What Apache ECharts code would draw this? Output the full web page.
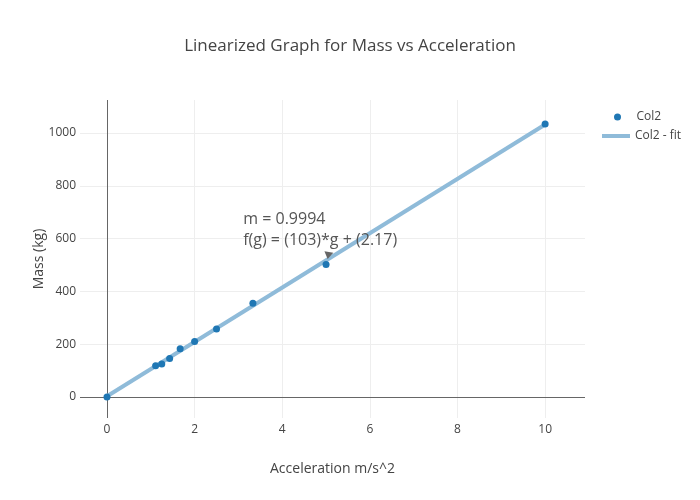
<!DOCTYPE html>
<html>
<head>
<meta charset="utf-8">
<title>Linearized Graph for Mass vs Acceleration</title>
<script src="https://cdn.jsdelivr.net/npm/echarts@6/dist/echarts.min.js"></script>
<style>
    html, body { margin: 0; padding: 0; background: #fff; }
    #chart { width: 700px; height: 500px; }
</style>
</head>
<body>
<div id="chart"></div>
<script>
// Measured points (acceleration m/s^2, mass kg)
var accel = [0, 1.11, 1.25, 1.43, 1.67, 2, 2.5, 3.33, 5, 10];
var mass = [0, 118, 125, 145, 182, 210, 257, 355, 502, 1034];

// Fit line end points: f(g) = 103*g + 2.17
var fitX = [0, 10];
var fitY = [2.17, 1032.17];

// Annotation
var noteText = ['m = 0.9994', 'f(g) = (103)*g + (2.17)'];
var noteAt = [5.05, 536];

var FONT = '"Open Sans", "DejaVu Sans", sans-serif';
var TEXT = '#444';

function pairs(xs, ys) {
    return xs.map(function(x, i) { return [x, ys[i]]; });
}

function plainNumber(v) {
    return String(v);
}

function renderChart() {
    var chart = echarts.init(document.getElementById('chart'));

    var option = {
        animation: false,
        textStyle: { fontFamily: FONT, color: TEXT },
        title: {
            text: 'Linearized Graph for Mass vs Acceleration',
            left: 'center',
            top: 33,
            textStyle: { fontFamily: FONT, fontSize: 17, fontWeight: 'normal', color: TEXT }
        },
        legend: [{
            data: [{ name: 'Col2', icon: 'circle' }],
            left: 609,
            top: 106,
            itemWidth: 28,
            itemHeight: 7,
            textStyle: { fontFamily: FONT, fontSize: 12, color: TEXT }
        }, {
            data: [{ name: 'Col2 - fit', icon: 'rect' }],
            left: 597,
            top: 125,
            itemWidth: 28,
            itemHeight: 4,
            itemStyle: { color: '#8fbbd9' },
            textStyle: { fontFamily: FONT, fontSize: 12, color: TEXT }
        }],
        grid: { left: 80, right: 115, top: 100, bottom: 82 },
        xAxis: {
            type: 'value',
            min: -0.616,
            max: 10.91,
            name: 'Acceleration m/s^2',
            nameLocation: 'middle',
            nameGap: 44,
            nameTextStyle: { fontFamily: FONT, fontSize: 14, color: TEXT },
            axisLine: { show: false },
            axisTick: { show: false },
            axisLabel: {
                margin: 6,
                showMinLabel: false,
                showMaxLabel: false,
                formatter: plainNumber,
                fontFamily: FONT, fontSize: 12, color: TEXT
            },
            splitLine: {
                showMinLine: false,
                showMaxLine: false,
                lineStyle: { color: '#eeeeee', width: 1 }
            }
        },
        yAxis: {
            type: 'value',
            min: -80,
            max: 1125,
            name: 'Mass (kg)',
            nameLocation: 'middle',
            nameGap: 34,
            nameMoveOverlap: false,
            nameTextStyle: { fontFamily: FONT, fontSize: 14, color: TEXT },
            axisLine: { show: false },
            axisTick: { show: false },
            axisLabel: {
                margin: 4,
                showMinLabel: false,
                showMaxLabel: false,
                formatter: plainNumber,
                fontFamily: FONT, fontSize: 12, color: TEXT
            },
            splitLine: {
                showMinLine: false,
                showMaxLine: false,
                lineStyle: { color: '#eeeeee', width: 1 }
            }
        },
        series: [{
            name: 'Col2 - fit',
            type: 'line',
            data: pairs(fitX, fitY),
            showSymbol: false,
            z: 2,
            lineStyle: { color: '#8fbbd9', width: 4 },
            itemStyle: { color: '#8fbbd9' },
            markLine: {
                silent: true,
                symbol: 'none',
                label: { show: false },
                lineStyle: { color: '#666', width: 1, type: 'solid' },
                data: [{ xAxis: 0 }, { yAxis: 0 }],
                z: 1
            },
            markPoint: {
                silent: true,
                data: [{ coord: noteAt }],
                symbol: 'triangle',
                symbolSize: [9, 7],
                symbolRotate: 170,
                itemStyle: { color: '#666' },
                label: {
                    show: true,
                    formatter: noteText.join('\n'),
                    position: [-80, -42],
                    align: 'left',
                    verticalAlign: 'top',
                    fontFamily: FONT,
                    fontSize: 16,
                    lineHeight: 21,
                    color: '#555'
                }
            }
        }, {
            name: 'Col2',
            type: 'scatter',
            data: pairs(accel, mass),
            symbolSize: 7,
            z: 3,
            itemStyle: { color: '#1f77b4', opacity: 1 }
        }]
    };

    chart.setOption(option);

    window.addEventListener('resize', function() {
        chart.resize();
    });
}

renderChart();
</script>
</body>
</html>
